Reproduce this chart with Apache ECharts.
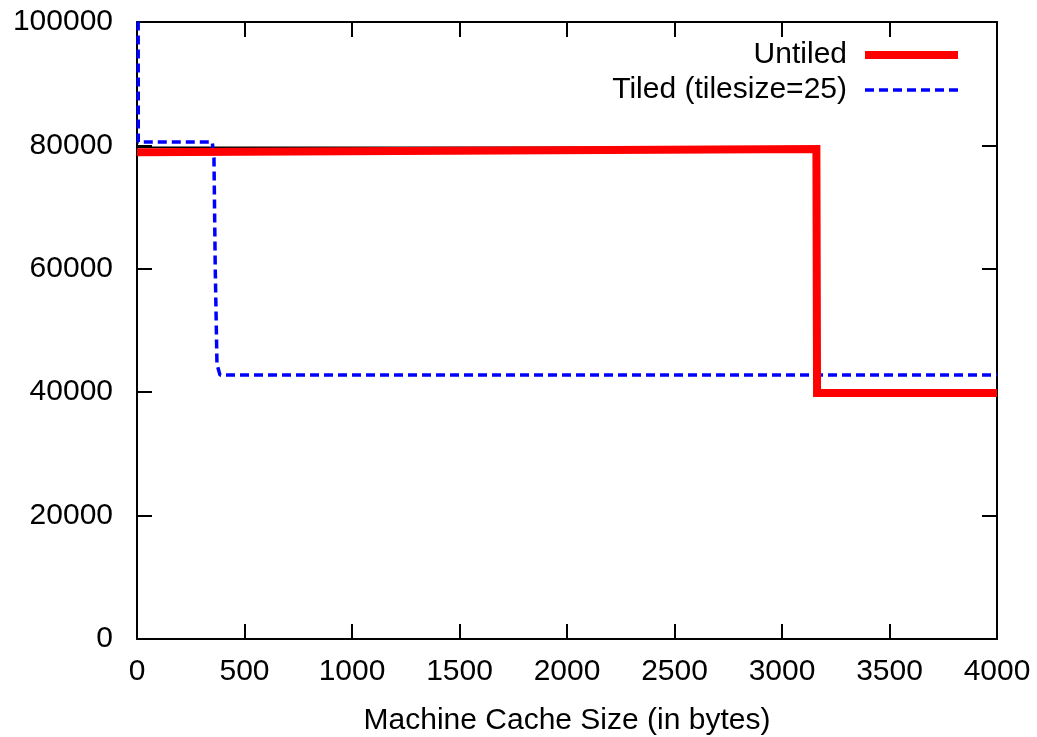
<!DOCTYPE html>
<html>
<head>
<meta charset="utf-8">
<script src="https://cdn.jsdelivr.net/npm/echarts@6/dist/echarts.min.js"></script>
<style>
  html, body { margin: 0; padding: 0; background: #fff; }
  #chart { width: 1037px; height: 737px; }
</style>
</head>
<body>
<div id="chart"></div>
<script>
// values: [cache size in bytes, misses]
const untiled = [[0, 78900], [3160, 79400], [3163, 39870], [4000, 39870]];
const tiled25 = [[4, 150000], [6, 80550], [350, 80550], [358, 78000], [364, 60000], [372, 44500], [386, 42790], [4000, 42790]];
// thin black curve mostly hidden under the red one
const hidden = [[0, 79700], [3160, 79700]];

const xTicks = { min: 0, max: 4000, interval: 500 };
const yTicks = { min: 0, max: 100000, interval: 20000 };
const fontFamily = 'Liberation Sans';
const fontSize = 30;

const chart = echarts.init(document.getElementById('chart'));

const axisLine = { show: true, onZero: false, lineStyle: { color: '#000', width: 2 } };
const axisTick = { show: true, inside: true, length: 15, lineStyle: { color: '#000', width: 2 } };
const plain = v => String(v);

chart.setOption({
  animation: false,
  backgroundColor: '#fff',
  grid: { left: 137, right: 40, top: 22, bottom: 98, containLabel: false, outerBoundsMode: 'none' },
  legend: {
    orient: 'vertical',
    right: 70,
    top: 35,
    align: 'right',
    itemWidth: 93,
    itemHeight: 8,
    itemGap: 5,
    itemStyle: { opacity: 0 },
    data: [
      { name: 'Untiled', lineStyle: { color: '#ff0000', width: 8 } },
      { name: 'Tiled (tilesize=25)', lineStyle: { color: '#0000ff', width: 3.5, type: [9, 5] } }
    ],
    textStyle: { fontFamily, fontSize, color: '#000', padding: [0, 13, 0, 0] }
  },
  xAxis: [
    {
      type: 'value', position: 'bottom', ...xTicks,
      axisLine, axisTick, splitLine: { show: false },
      axisLabel: { fontFamily, fontSize, color: '#000', margin: 18, formatter: plain },
      name: 'Machine Cache Size (in bytes)',
      nameLocation: 'middle', nameGap: 67,
      nameTextStyle: { fontFamily, fontSize, color: '#000' }
    },
    {
      type: 'value', position: 'top', ...xTicks,
      axisLine, axisTick, splitLine: { show: false }, axisLabel: { show: false }
    }
  ],
  yAxis: [
    {
      type: 'value', position: 'left', ...yTicks,
      axisLine, axisTick, splitLine: { show: false },
      axisLabel: { fontFamily, fontSize, color: '#000', margin: 24, formatter: plain }
    },
    {
      type: 'value', position: 'right', ...yTicks,
      axisLine, axisTick, splitLine: { show: false }, axisLabel: { show: false }
    }
  ],
  series: [
    {
      name: 'hidden', type: 'line', data: hidden, symbol: 'none', z: 1,
      lineStyle: { color: '#000', width: 1.5 }
    },
    {
      name: 'Untiled', type: 'line', data: untiled, symbol: 'none', z: 3,
      itemStyle: { color: '#ff0000' },
      lineStyle: { color: '#ff0000', width: 8, join: 'miter' }
    },
    {
      name: 'Tiled (tilesize=25)', type: 'line', data: tiled25, symbol: 'none', z: 2,
      itemStyle: { color: '#0000ff' },
      lineStyle: { color: '#0000ff', width: 3.5, type: [9, 5] }
    }
  ]
});
</script>
</body>
</html>
